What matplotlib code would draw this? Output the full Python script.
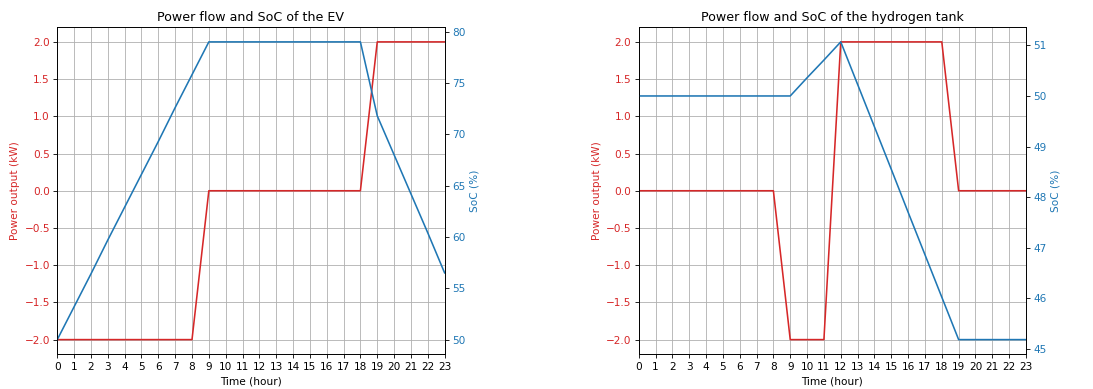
import matplotlib
matplotlib.use("Agg")
import matplotlib.pyplot as plt

hours = list(range(24))

# EV: power (kW) and state of charge (%)
ev_power = [-2, -2, -2, -2, -2, -2, -2, -2, -2,
            0, 0, 0, 0, 0, 0, 0, 0, 0, 0,
            2, 2, 2, 2, 2]
ev_soc = [50.0, 53.2, 56.4, 59.7, 62.9, 66.1, 69.3, 72.6, 75.8,
          79.0, 79.0, 79.0, 79.0, 79.0, 79.0, 79.0, 79.0, 79.0, 79.0,
          71.8, 68.0, 64.2, 60.4, 56.5]

# hydrogen tank: power (kW) and state of charge (%)
h2_power = [0, 0, 0, 0, 0, 0, 0, 0, 0,
            -2, -2, -2,
            2, 2, 2, 2, 2, 2, 2,
            0, 0, 0, 0, 0]
h2_soc = [50.0, 50.0, 50.0, 50.0, 50.0, 50.0, 50.0, 50.0, 50.0, 50.0,
          50.36, 50.71, 51.07,
          50.23, 49.39, 48.55, 47.70, 46.86, 46.02, 45.18,
          45.18, 45.18, 45.18, 45.18]

titles = ["Power flow and SoC of the EV", "Power flow and SoC of the hydrogen tank"]

DPI = 76
fig, axes = plt.subplots(1, 2, figsize=(1093 / DPI, 389 / DPI), dpi=DPI)
plt.subplots_adjust(left=0.0524, right=0.9387, bottom=0.0887, top=0.9306, wspace=0.501)

for ax, power, soc, title in zip(axes, [ev_power, h2_power], [ev_soc, h2_soc], titles):
    ax.plot(hours, power, color="tab:red")
    ax.set_xlabel("Time (hour)")
    ax.set_ylabel("Power output (kW)", color="tab:red")
    ax.tick_params(axis="y", labelcolor="tab:red")
    ax.set_xticks(hours)
    ax.set_xlim(0, 23)
    ax.grid(True)
    ax.set_title(title)

    ax2 = ax.twinx()
    ax2.plot(hours, soc, color="tab:blue")
    ax2.set_ylabel("SoC (%)", color="tab:blue")
    ax2.tick_params(axis="y", labelcolor="tab:blue")

plt.savefig("out.png", dpi=DPI)
